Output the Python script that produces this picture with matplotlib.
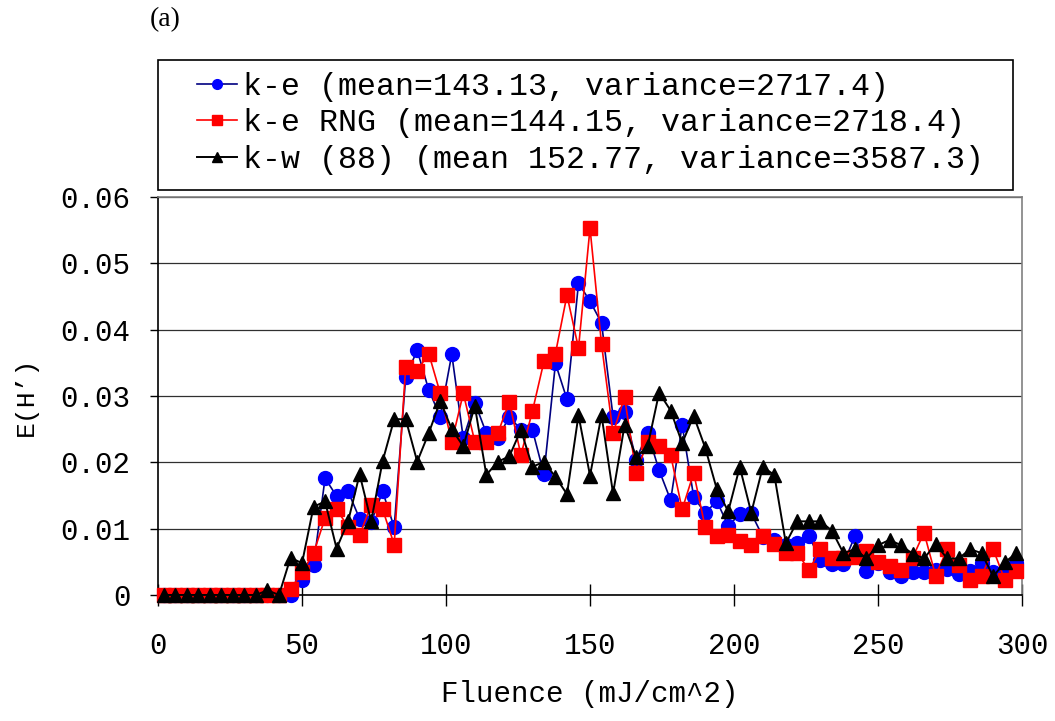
import numpy as np
import matplotlib
matplotlib.use('Agg')
import matplotlib.pyplot as plt
from matplotlib.patches import Rectangle

# fluence bins (bin centres, mJ/cm^2)
fluence = np.arange(2, 299, 4)

ke = [0, 0, 0, 0, 0, 0, 0, 0, 0, 0, 0, 0,
      0.0023, 0.0045, 0.0176, 0.0149, 0.0156, 0.0115, 0.0110, 0.0156, 0.0102,
      0.0329, 0.0369, 0.0309, 0.0269, 0.0363, 0.0236, 0.0290, 0.0244, 0.0236,
      0.0269, 0.0249, 0.0249, 0.0182, 0.0349, 0.0295, 0.0470, 0.0443, 0.0410,
      0.0269, 0.0276, 0.0204, 0.0244, 0.0188, 0.0143, 0.0256, 0.0148, 0.0123,
      0.0142, 0.0104, 0.0122, 0.0123, 0.0088, 0.0083, 0.0075, 0.0078, 0.0089,
      0.0053, 0.0047, 0.0047, 0.0089, 0.0036, 0.0048, 0.0034, 0.0028, 0.0035,
      0.0035, 0.0037, 0.0039, 0.0031, 0.0036, 0.0048, 0.0034, 0.0038, 0.0048]

ke_rng = [0, 0, 0, 0, 0, 0, 0, 0, 0, 0, 0,
          0.0009, 0.0034, 0.0063, 0.0116, 0.0129, 0.0103, 0.0090, 0.0136, 0.0129,
          0.0076, 0.0344, 0.0338, 0.0364, 0.0304, 0.0231, 0.0304, 0.0231, 0.0231,
          0.0244, 0.0291, 0.0211, 0.0277, 0.0352, 0.0364, 0.0452, 0.0372, 0.0553,
          0.0378, 0.0244, 0.0298, 0.0184, 0.0231, 0.0224, 0.0211, 0.0129, 0.0184,
          0.0102, 0.0089, 0.0090, 0.0082, 0.0075, 0.0089, 0.0077, 0.0064, 0.0064,
          0.0037, 0.0069, 0.0056, 0.0056, 0.0057, 0.0067, 0.0050, 0.0044, 0.0037,
          0.0056, 0.0094, 0.0029, 0.0069, 0.0045, 0.0023, 0.0029, 0.0069, 0.0023,
          0.0036]

kw = [0, 0, 0, 0, 0, 0, 0, 0, 0, 0.0007, 0,
      0.0056, 0.0048, 0.0133, 0.0141, 0.0070, 0.0111, 0.0182, 0.0111, 0.0202,
      0.0265, 0.0265, 0.0201, 0.0244, 0.0292, 0.0250, 0.0224, 0.0285, 0.0181,
      0.0201, 0.0209, 0.0249, 0.0193, 0.0201, 0.0178, 0.0152, 0.0271, 0.0180,
      0.0271, 0.0153, 0.0256, 0.0208, 0.0224, 0.0305, 0.0278, 0.0229, 0.0270,
      0.0222, 0.0160, 0.0126, 0.0193, 0.0124, 0.0193, 0.0181, 0.0078, 0.0111,
      0.0111, 0.0111, 0.0097, 0.0063, 0.0069, 0.0055, 0.0075, 0.0083, 0.0075,
      0.0062, 0.0055, 0.0077, 0.0055, 0.0055, 0.0069, 0.0063, 0.0028, 0.0049,
      0.0063]

labels = ['k-e (mean=143.13, variance=2717.4)',
          'k-e RNG (mean=144.15, variance=2718.4)',
          'k-w (88) (mean 152.77, variance=3587.3)']

yticks = [0, 0.01, 0.02, 0.03, 0.04, 0.05, 0.06]
xticks = [0, 50, 100, 150, 200, 250, 300]

plt.rcParams['font.family'] = ['Liberation Mono', 'DejaVu Sans Mono']

fig = plt.figure(figsize=(10.55, 7.21), dpi=100)
ax = fig.add_axes([0.1498, 0.1748, 0.8189, 0.552])

l1, = ax.plot(fluence, ke, color='#000080', lw=1.2, marker='o', ms=10,
              mfc='#0000ff', mec='#0000ff', clip_on=False, zorder=3)
l2, = ax.plot(fluence, ke_rng, color='#ff0000', lw=1.2, marker='s', ms=9.5,
              mfc='#ff0000', mec='#ff0000', clip_on=False, zorder=4)
l3, = ax.plot(fluence, kw, color='#000000', lw=1.4, marker='^', ms=10,
              mfc='#000000', mec='#000000', clip_on=False, zorder=5)

ax.set_xlim(0, 300)
ax.set_ylim(0, 0.06)
ax.set_xticks(xticks)
ax.set_yticks(yticks)
ax.set_yticklabels(['0' if v == 0 else f'{v:.2f}' for v in yticks])
ax.yaxis.grid(True, color='#303030', lw=0.9)
ax.set_axisbelow(True)

ax.tick_params(axis='x', direction='inout', length=16, width=1, pad=19, labelsize=21)
ax.tick_params(axis='y', direction='out', length=6, width=1, pad=14, labelsize=21)
for s in ['left', 'bottom']:
    ax.spines[s].set_color('black')
    ax.spines[s].set_linewidth(1.2)
for s in ['top', 'right']:
    ax.spines[s].set_color('#808080')
    ax.spines[s].set_linewidth(1.2)

ax.set_xlabel('Fluence (mJ/cm^2)', fontsize=21, labelpad=14)
ax.set_ylabel('E(H’)', fontsize=19, labelpad=16)

# legend box above the plot
fig.patches.append(Rectangle((158 / 1055, 1 - 190 / 721), 855 / 1055, 130 / 721,
                             transform=fig.transFigure, fill=False,
                             edgecolor='black', lw=1.2))
fig.legend([l1, l2, l3], labels, loc='upper left',
           bbox_to_anchor=(197 / 1055, 1 - 72 / 721), frameon=False,
           fontsize=22.8, borderpad=0, borderaxespad=0, labelspacing=0.2,
           handlelength=1.25, handletextpad=0.2, markerscale=0.7)

fig.text(150 / 1055, 1 - 20 / 721, '(a)', fontsize=20, va='center',
         family='Liberation Serif')

fig.savefig('out.png', dpi=100)
